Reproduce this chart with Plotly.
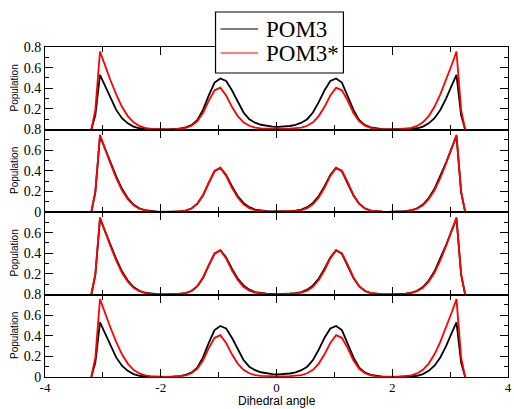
import plotly.graph_objects as go
from plotly.subplots import make_subplots

# Dihedral angle grid (radians)
angle = [
    -3.20, -3.13, -3.05, -2.97,
    -2.87, -2.77, -2.67, -2.57, -2.47, -2.37, -2.27, -2.17, -2.07, -1.97,
    -1.87, -1.77, -1.67, -1.57, -1.47, -1.37, -1.27, -1.17, -1.07, -0.97,
    -0.87, -0.77, -0.67, -0.57, -0.47, -0.37, -0.27, -0.17, -0.07, 0.03,
    0.13, 0.23, 0.33, 0.43, 0.53, 0.63, 0.73, 0.83, 0.93,
    1.03, 1.13, 1.23, 1.33, 1.43, 1.53, 1.63, 1.73, 1.83, 1.93,
    2.03, 2.13, 2.23, 2.33, 2.43, 2.53, 2.63, 2.73, 2.83, 2.93,
    3.03, 3.11, 3.19, 3.26,
]

# Populations for the outer panels (1 and 4)
pom3_outer = [
    0.0, 0.14, 0.53, 0.43,
    0.30, 0.19, 0.11, 0.06, 0.028, 0.012, 0.005, 0.002, 0.001, 0.001,
    0.002, 0.004, 0.009, 0.02, 0.042, 0.09, 0.19, 0.33, 0.455, 0.495,
    0.47, 0.38, 0.265, 0.165, 0.10, 0.066, 0.046, 0.034, 0.028, 0.026,
    0.028, 0.034, 0.046, 0.066, 0.10, 0.165, 0.265, 0.38, 0.47,
    0.495, 0.455, 0.33, 0.19, 0.09, 0.042, 0.02, 0.009, 0.004, 0.002,
    0.001, 0.001, 0.002, 0.005, 0.012, 0.028, 0.06, 0.11, 0.19, 0.30,
    0.43, 0.53, 0.14, 0.0,
]
pom3s_outer = [
    0.0, 0.19, 0.755, 0.63,
    0.48, 0.34, 0.22, 0.13, 0.07, 0.035, 0.016, 0.007, 0.003, 0.002,
    0.002, 0.003, 0.007, 0.016, 0.036, 0.08, 0.16, 0.28, 0.38, 0.405,
    0.33, 0.22, 0.13, 0.07, 0.036, 0.019, 0.011, 0.008, 0.006, 0.006,
    0.006, 0.008, 0.011, 0.019, 0.036, 0.07, 0.13, 0.22, 0.33,
    0.405, 0.38, 0.28, 0.16, 0.08, 0.036, 0.016, 0.007, 0.003, 0.002,
    0.002, 0.003, 0.007, 0.016, 0.035, 0.07, 0.13, 0.22, 0.34, 0.48,
    0.63, 0.755, 0.19, 0.0,
]

# Populations for the inner panels (2 and 3)
pom3_inner = [
    0.0, 0.19, 0.735, 0.625,
    0.48, 0.345, 0.225, 0.135, 0.072, 0.036, 0.017, 0.008, 0.004, 0.002,
    0.002, 0.003, 0.006, 0.014, 0.034, 0.078, 0.16, 0.285, 0.395, 0.43,
    0.36, 0.25, 0.155, 0.088, 0.047, 0.024, 0.013, 0.008, 0.005, 0.005,
    0.005, 0.008, 0.013, 0.024, 0.047, 0.088, 0.155, 0.25, 0.36,
    0.43, 0.395, 0.285, 0.16, 0.078, 0.034, 0.014, 0.006, 0.003, 0.002,
    0.002, 0.004, 0.008, 0.017, 0.036, 0.072, 0.135, 0.225, 0.345, 0.48,
    0.625, 0.735, 0.19, 0.0,
]
pom3s_inner = [
    0.0, 0.20, 0.748, 0.62,
    0.47, 0.33, 0.21, 0.125, 0.065, 0.032, 0.015, 0.007, 0.003, 0.002,
    0.002, 0.003, 0.006, 0.014, 0.034, 0.08, 0.165, 0.29, 0.40, 0.428,
    0.35, 0.235, 0.14, 0.075, 0.038, 0.019, 0.01, 0.006, 0.004, 0.004,
    0.004, 0.006, 0.01, 0.019, 0.038, 0.075, 0.14, 0.235, 0.35,
    0.428, 0.40, 0.29, 0.165, 0.08, 0.034, 0.014, 0.006, 0.003, 0.002,
    0.002, 0.003, 0.007, 0.015, 0.032, 0.065, 0.125, 0.21, 0.33, 0.47,
    0.62, 0.748, 0.20, 0.0,
]

panel_pom3 = [pom3_outer, pom3_inner, pom3_inner, pom3_outer]
panel_pom3s = [pom3s_outer, pom3s_inner, pom3s_inner, pom3s_outer]

series_names = ["POM3", "POM3*"]
series_colors = ["#000000", "#ff0000"]

y_tickvals = [0, 0.2, 0.4, 0.6, 0.8]
y_ticktext = [
    ["", "0.2", "0.4", "0.6", "0.8"],
    ["0", "0.2", "0.4", "0.6", "0.8"],
    ["", "0.2", "0.4", "0.6", ""],
    ["0", "0.2", "0.4", "0.6", "0.8"],
]
x_tickvals = [-4, -2, 0, 2, 4]
x_ticktext = ["-4", "-2", "0", "2", "4"]
x_minor = [-3, -1, 1, 3]

SERIF = "Liberation Serif"
SANS = "Liberation Sans"

# plot-area geometry in pixels (used to place the legend box)
W, H = 514, 409
ML, MR, MT, MB = 45, 2, 47, 32
PW, PH = W - ML - MR, H - MT - MB


def px(xp):
    return (xp - ML) / PW


def py(yp):
    return (H - MB - yp) / PH


fig = make_subplots(rows=4, cols=1, shared_xaxes=True, vertical_spacing=0)

for i in range(4):
    row = i + 1
    for data, name, color in zip([panel_pom3[i], panel_pom3s[i]], series_names, series_colors):
        fig.add_trace(go.Scatter(x=angle, y=data, mode="lines", name=name,
                                 line=dict(color=color, width=1.8),
                                 showlegend=False), row=row, col=1)

    fig.update_yaxes(row=row, col=1, range=[0, 0.8],
                     tickvals=y_tickvals, ticktext=y_ticktext[i],
                     ticks="inside", ticklen=8, tickwidth=1, tickcolor="black",
                     minor=dict(tickvals=[0.1, 0.3, 0.5, 0.7], ticks="inside",
                                ticklen=4, tickwidth=1, tickcolor="black"),
                     showline=True, mirror="allticks", linecolor="black", linewidth=1,
                     showgrid=False, zeroline=False,
                     tickfont=dict(family=SERIF, size=14, color="black"))
    fig.update_xaxes(row=row, col=1, range=[-4, 4],
                     tickvals=x_tickvals, ticktext=x_ticktext,
                     ticks="inside", ticklen=8, tickwidth=1, tickcolor="black",
                     minor=dict(tickvals=x_minor, ticks="inside", ticklen=5,
                                tickwidth=1, tickcolor="black"),
                     showline=True, mirror="allticks", linecolor="black", linewidth=1,
                     showgrid=False, zeroline=False, showticklabels=(row == 4),
                     ticklabeloverflow="allow", ticklabelstandoff=-2,
                     tickfont=dict(family=SERIF, size=13, color="black"))

    yref = "y domain" if row == 1 else f"y{row} domain"
    fig.add_annotation(text="Population", xref="paper", yref=yref,
                       x=px(14), y=0.5, textangle=-90, showarrow=False,
                       xanchor="center", yanchor="middle",
                       font=dict(family=SANS, size=10, color="black"))

fig.add_annotation(text="Dihedral angle", xref="x4", yref="paper", x=0, y=py(410),
                   showarrow=False, xanchor="center", yanchor="bottom",
                   font=dict(family=SANS, size=12, color="black"))

# legend box with line samples
fig.add_shape(type="rect", xref="paper", yref="paper",
              x0=px(217), x1=px(346), y0=py(73), y1=py(12),
              line=dict(color="black", width=1.2), fillcolor="white", layer="above")
for name, color, yp in zip(series_names, series_colors, [29, 53]):
    fig.add_shape(type="line", xref="paper", yref="paper",
                  x0=px(222), x1=px(260), y0=py(yp), y1=py(yp),
                  line=dict(color=color, width=1.2), layer="above")
    fig.add_annotation(text=name, xref="paper", yref="paper", x=px(266), y=py(yp),
                       showarrow=False, xanchor="left", yanchor="middle",
                       font=dict(family=SERIF, size=23, color="black"))

fig.update_layout(
    width=W, height=H,
    margin=dict(l=ML, r=MR, t=MT, b=MB),
    paper_bgcolor="white", plot_bgcolor="white",
    showlegend=False,
)

fig.write_html("out.html")
